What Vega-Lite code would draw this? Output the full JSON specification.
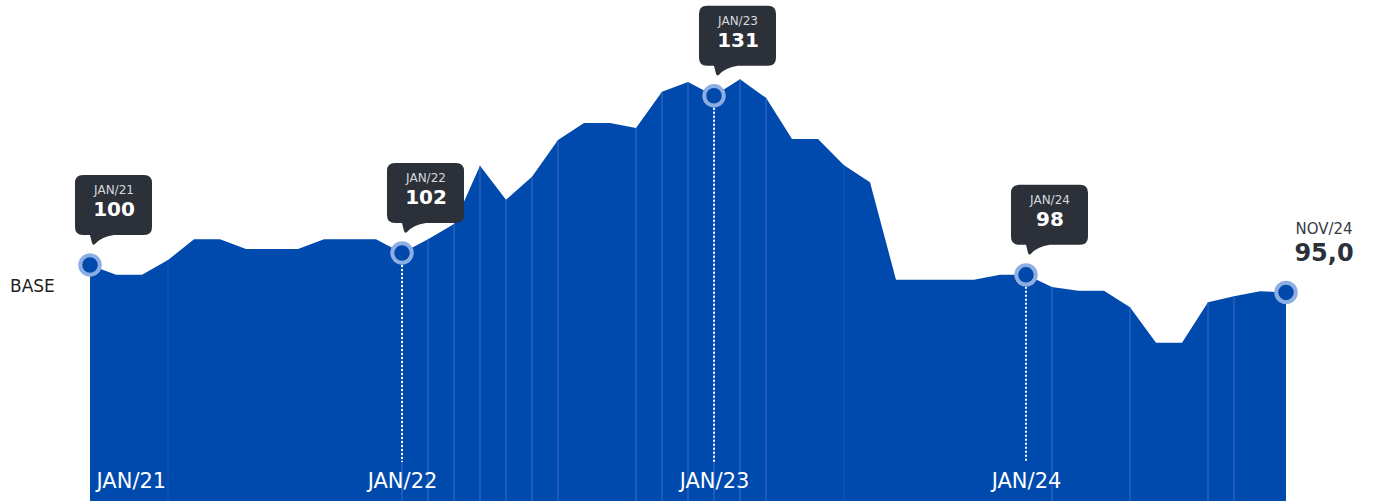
{
  "$schema": "https://vega.github.io/schema/vega-lite/v6.json",
  "width": 1374,
  "height": 501,
  "padding": 0,
  "autosize": {"type": "none"},
  "background": "#ffffff",
  "config": {"view": {"stroke": null}, "font": "DejaVu Sans"},
  "data": {
    "values": [
      {"month": "2021-01", "value": 100.0},
      {"month": "2021-02", "value": 98.2},
      {"month": "2021-03", "value": 98.2},
      {"month": "2021-04", "value": 100.9},
      {"month": "2021-05", "value": 104.7},
      {"month": "2021-06", "value": 104.7},
      {"month": "2021-07", "value": 102.9},
      {"month": "2021-08", "value": 102.9},
      {"month": "2021-09", "value": 102.9},
      {"month": "2021-10", "value": 104.7},
      {"month": "2021-11", "value": 104.7},
      {"month": "2021-12", "value": 104.7},
      {"month": "2022-01", "value": 102.2},
      {"month": "2022-02", "value": 104.7},
      {"month": "2022-03", "value": 107.5},
      {"month": "2022-04", "value": 118.1},
      {"month": "2022-05", "value": 111.9},
      {"month": "2022-06", "value": 116.1},
      {"month": "2022-07", "value": 122.8},
      {"month": "2022-08", "value": 125.9},
      {"month": "2022-09", "value": 125.9},
      {"month": "2022-10", "value": 125.0},
      {"month": "2022-11", "value": 131.6},
      {"month": "2022-12", "value": 133.4},
      {"month": "2023-01", "value": 130.9},
      {"month": "2023-02", "value": 133.9},
      {"month": "2023-03", "value": 130.5},
      {"month": "2023-04", "value": 123.0},
      {"month": "2023-05", "value": 123.0},
      {"month": "2023-06", "value": 118.2},
      {"month": "2023-07", "value": 115.1},
      {"month": "2023-08", "value": 97.3},
      {"month": "2023-09", "value": 97.3},
      {"month": "2023-10", "value": 97.3},
      {"month": "2023-11", "value": 97.3},
      {"month": "2023-12", "value": 98.2},
      {"month": "2024-01", "value": 98.2},
      {"month": "2024-02", "value": 96.0},
      {"month": "2024-03", "value": 95.3},
      {"month": "2024-04", "value": 95.3},
      {"month": "2024-05", "value": 92.3},
      {"month": "2024-06", "value": 85.8},
      {"month": "2024-07", "value": 85.8},
      {"month": "2024-08", "value": 93.2},
      {"month": "2024-09", "value": 94.3},
      {"month": "2024-10", "value": 95.2},
      {"month": "2024-11", "value": 95.0}
    ]
  },
  "encoding": {
    "x": {
      "field": "month",
      "type": "ordinal",
      "scale": {"type": "point", "range": [90, 1286], "padding": 0},
      "axis": {
        "values": ["2021-01", "2022-01", "2023-01", "2024-01"],
        "labelExpr": "upper(utcFormat(toDate(datum.value + '-01'), '%b/%y'))",
        "title": null,
        "domain": false,
        "ticks": false,
        "tickSize": 0,
        "grid": false,
        "labelAngle": 0,
        "labelColor": "#ffffff",
        "labelFont": "DejaVu Sans",
        "labelFontSize": 21,
        "labelPadding": 0,
        "labelFlush": true,
        "labelFlushOffset": -6,
        "offset": -31,
        "zindex": 1
      }
    },
    "y": {
      "field": "value",
      "type": "quantitative",
      "scale": {"domain": [56.93, 148.36], "nice": false, "zero": false},
      "axis": null
    }
  },
  "layer": [
    {
      "mark": {"type": "area", "color": "#004AAD", "interpolate": "linear"},
      "encoding": {"y2": {"datum": 56.93}}
    },
    {
      "transform": [{"filter": {"field": "month", "oneOf": ["2022-01", "2022-02", "2022-03", "2022-04", "2022-05", "2022-06", "2022-07", "2022-10", "2022-11", "2022-12", "2023-01", "2023-02", "2023-03", "2024-02", "2024-05", "2024-08", "2024-09"]}}],
      "mark": {"type": "rule", "color": "#3A6CC1", "strokeWidth": 1},
      "encoding": {"y2": {"datum": 56.93}}
    },
    {
      "transform": [{"filter": {"field": "month", "oneOf": ["2021-04", "2023-06"]}}],
      "mark": {"type": "rule", "color": "#1453B2", "strokeWidth": 1},
      "encoding": {"y2": {"datum": 56.93}}
    },
    {
      "transform": [{"filter": {"field": "month", "oneOf": ["2022-01", "2023-01", "2024-01"]}}],
      "mark": {"type": "rule", "color": "#ffffff", "strokeWidth": 2, "strokeDash": [2, 2]},
      "encoding": {"y2": {"datum": 64.06}}
    },
    {
      "transform": [{"filter": {"field": "month", "oneOf": ["2021-01", "2022-01", "2023-01", "2024-01", "2024-11"]}}],
      "mark": {"type": "circle", "size": 550, "color": "#8DAEE2", "opacity": 1}
    },
    {
      "transform": [{"filter": {"field": "month", "oneOf": ["2021-01", "2022-01", "2023-01", "2024-01", "2024-11"]}}],
      "mark": {"type": "circle", "size": 240, "color": "#0049AB", "opacity": 1}
    },
    {
      "transform": [{"filter": {"field": "month", "oneOf": ["2021-01", "2022-01", "2023-01", "2024-01"]}}],
      "mark": {
        "type": "point",
        "shape": "M -7 -90 L 54 -90 Q 62 -90 62 -82 L 62 -38 Q 62 -30 54 -30 L 24 -30 Q 11 -28 5 -21 Q 3 -19 2 -22 L 0 -30 L -7 -30 Q -15 -30 -15 -38 L -15 -82 Q -15 -90 -7 -90 Z",
        "size": 4,
        "filled": true,
        "fill": "#2B3039",
        "strokeWidth": 0,
        "opacity": 1
      }
    },
    {
      "transform": [
        {"filter": {"field": "month", "oneOf": ["2021-01", "2022-01", "2023-01", "2024-01"]}},
        {"calculate": "upper(utcFormat(toDate(datum.month + '-01'), '%b/%y'))", "as": "label"}
      ],
      "mark": {"type": "text", "align": "center", "baseline": "alphabetic", "dx": 24, "dy": -71, "fontSize": 12, "color": "#D6D9DE"},
      "encoding": {"text": {"field": "label"}}
    },
    {
      "transform": [{"filter": {"field": "month", "oneOf": ["2021-01", "2022-01", "2023-01", "2024-01"]}}],
      "mark": {"type": "text", "align": "center", "baseline": "alphabetic", "dx": 24, "dy": -49, "fontSize": 20, "fontWeight": "bold", "color": "#ffffff"},
      "encoding": {"text": {"field": "value", "format": ".0f"}}
    },
    {
      "transform": [
        {"filter": {"field": "month", "equal": "2024-11"}},
        {"calculate": "upper(utcFormat(toDate(datum.month + '-01'), '%b/%y'))", "as": "label"}
      ],
      "mark": {"type": "text", "align": "center", "baseline": "alphabetic", "dx": 38, "dy": -58, "fontSize": 15, "color": "#353B45"},
      "encoding": {"text": {"field": "label"}}
    },
    {
      "transform": [
        {"filter": {"field": "month", "equal": "2024-11"}},
        {"calculate": "replace(format(datum.value, '.1f'), '.', ',')", "as": "shown"}
      ],
      "mark": {"type": "text", "align": "center", "baseline": "alphabetic", "dx": 38, "dy": -31, "fontSize": 24, "fontWeight": "bold", "color": "#2B3039"},
      "encoding": {"text": {"field": "shown"}}
    },
    {
      "transform": [{"filter": {"field": "month", "equal": "2021-01"}}],
      "mark": {"type": "text", "align": "left", "baseline": "alphabetic", "dx": -80, "dy": 27, "fontSize": 17, "color": "#222222"},
      "encoding": {"text": {"value": "BASE"}}
    }
  ]
}
